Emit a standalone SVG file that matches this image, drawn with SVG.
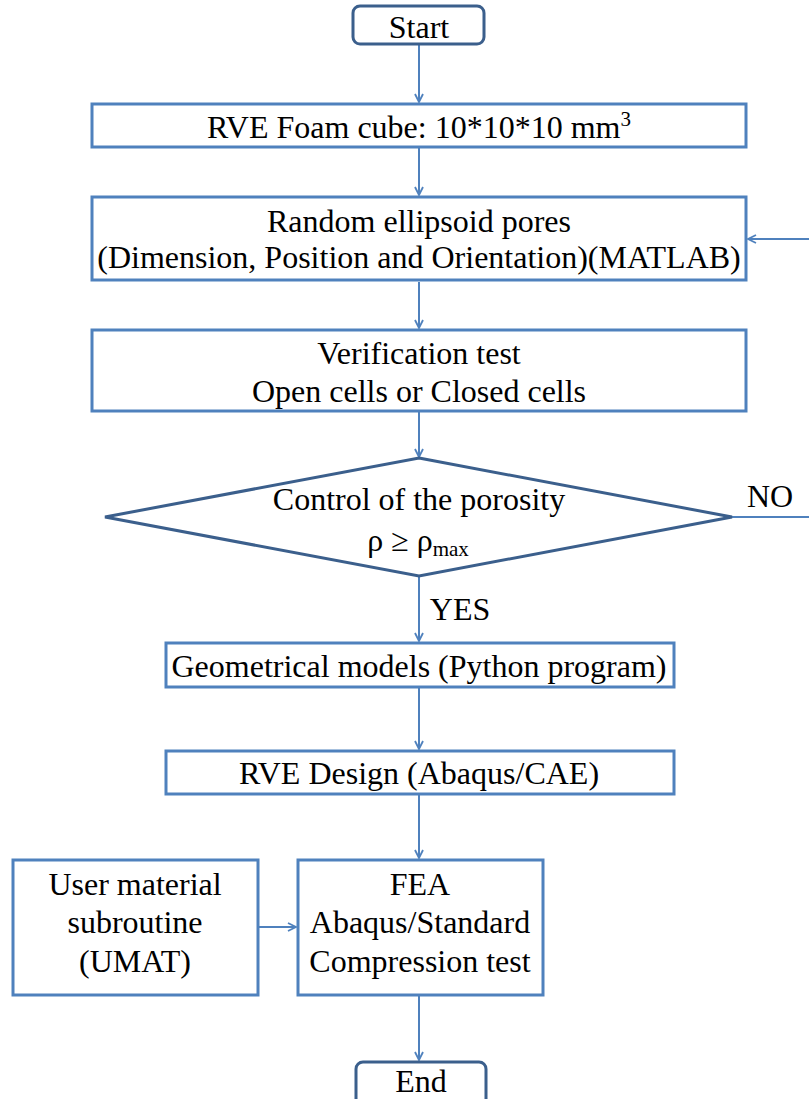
<svg xmlns="http://www.w3.org/2000/svg" width="809" height="1099" viewBox="0 0 809 1099">
<style>
.box{fill:#fff;stroke:#4f81bd;stroke-width:3}
.term{fill:#fff;stroke:#3b5f8c;stroke-width:3}
.dia{fill:#fff;stroke:#3b5f8c;stroke-width:3}
.t{font-family:'Liberation Serif',serif;font-size:32px;fill:#000;text-anchor:middle}
.c{fill:none;stroke:#4f81bd;stroke-width:2}
</style>
<defs>
<marker id="ah" viewBox="0 0 10 10" refX="9" refY="5" markerWidth="10" markerHeight="10" markerUnits="userSpaceOnUse" orient="auto">
<path d="M1,1 L9,5 L1,9" fill="none" stroke="#4f81bd" stroke-width="1.8"/>
</marker>
</defs>
<g id="connectors">
<line class="c" x1="419" y1="45" x2="419" y2="102" marker-end="url(#ah)"/>
<line class="c" x1="419" y1="148" x2="419" y2="195" marker-end="url(#ah)"/>
<line class="c" x1="419" y1="282" x2="419" y2="328" marker-end="url(#ah)"/>
<line class="c" x1="419" y1="412" x2="419" y2="457" marker-end="url(#ah)"/>
<line class="c" x1="732" y1="517" x2="809" y2="517"/>
<line class="c" x1="809" y1="239" x2="748" y2="239" marker-end="url(#ah)"/>
<line class="c" x1="419" y1="577" x2="419" y2="641" marker-end="url(#ah)"/>
<line class="c" x1="419" y1="688" x2="419" y2="749" marker-end="url(#ah)"/>
<line class="c" x1="419" y1="795" x2="419" y2="858" marker-end="url(#ah)"/>
<line class="c" x1="259" y1="927" x2="296" y2="927" marker-end="url(#ah)"/>
<line class="c" x1="419" y1="996" x2="419" y2="1060" marker-end="url(#ah)"/>
<text class="t" x="460" y="620">YES</text>
<text class="t" x="770" y="507">NO</text>
</g>
<g id="start">
<rect class="term" x="353" y="6" width="131" height="38" rx="7"/>
<text class="t" x="419" y="38">Start</text>
</g>
<g id="rve-cube">
<rect class="box" x="92" y="104" width="654" height="43"/>
<text class="t" x="419" y="138">RVE Foam cube: 10*10*10 mm<tspan font-size="21" dy="-12">3</tspan></text>
</g>
<g id="pores">
<rect class="box" x="92" y="197" width="654" height="83"/>
<text class="t" x="419" y="232">Random ellipsoid pores</text>
<text class="t" x="419" y="268">(Dimension, Position and Orientation)(MATLAB)</text>
</g>
<g id="verification">
<rect class="box" x="92" y="330" width="654" height="81"/>
<text class="t" x="419" y="364">Verification test</text>
<text class="t" x="419" y="402">Open cells or Closed cells</text>
</g>
<g id="porosity">
<polygon class="dia" points="419,458 732,517 419,576 105,517"/>
<text class="t" x="419" y="510">Control of the porosity</text>
<text class="t" x="418" y="551">ρ ≥ ρ<tspan font-size="21" dy="5">max</tspan></text>
</g>
<g id="geometrical">
<rect class="box" x="166" y="643" width="508" height="44"/>
<text class="t" x="419" y="677">Geometrical models (Python program)</text>
</g>
<g id="rve-design">
<rect class="box" x="166" y="751" width="508" height="43"/>
<text class="t" x="419" y="784">RVE Design (Abaqus/CAE)</text>
</g>
<g id="umat">
<rect class="box" x="13" y="860" width="245" height="135"/>
<text class="t" x="135" y="895">User material</text>
<text class="t" x="135" y="933">subroutine</text>
<text class="t" x="135" y="972">(UMAT)</text>
</g>
<g id="fea">
<rect class="box" x="298" y="860" width="245" height="135"/>
<text class="t" x="420" y="895">FEA</text>
<text class="t" x="420" y="933">Abaqus/Standard</text>
<text class="t" x="420" y="972">Compression test</text>
</g>
<g id="end">
<rect class="term" x="356" y="1062" width="130" height="45" rx="7"/>
<text class="t" x="421" y="1092">End</text>
</g>
</svg>
